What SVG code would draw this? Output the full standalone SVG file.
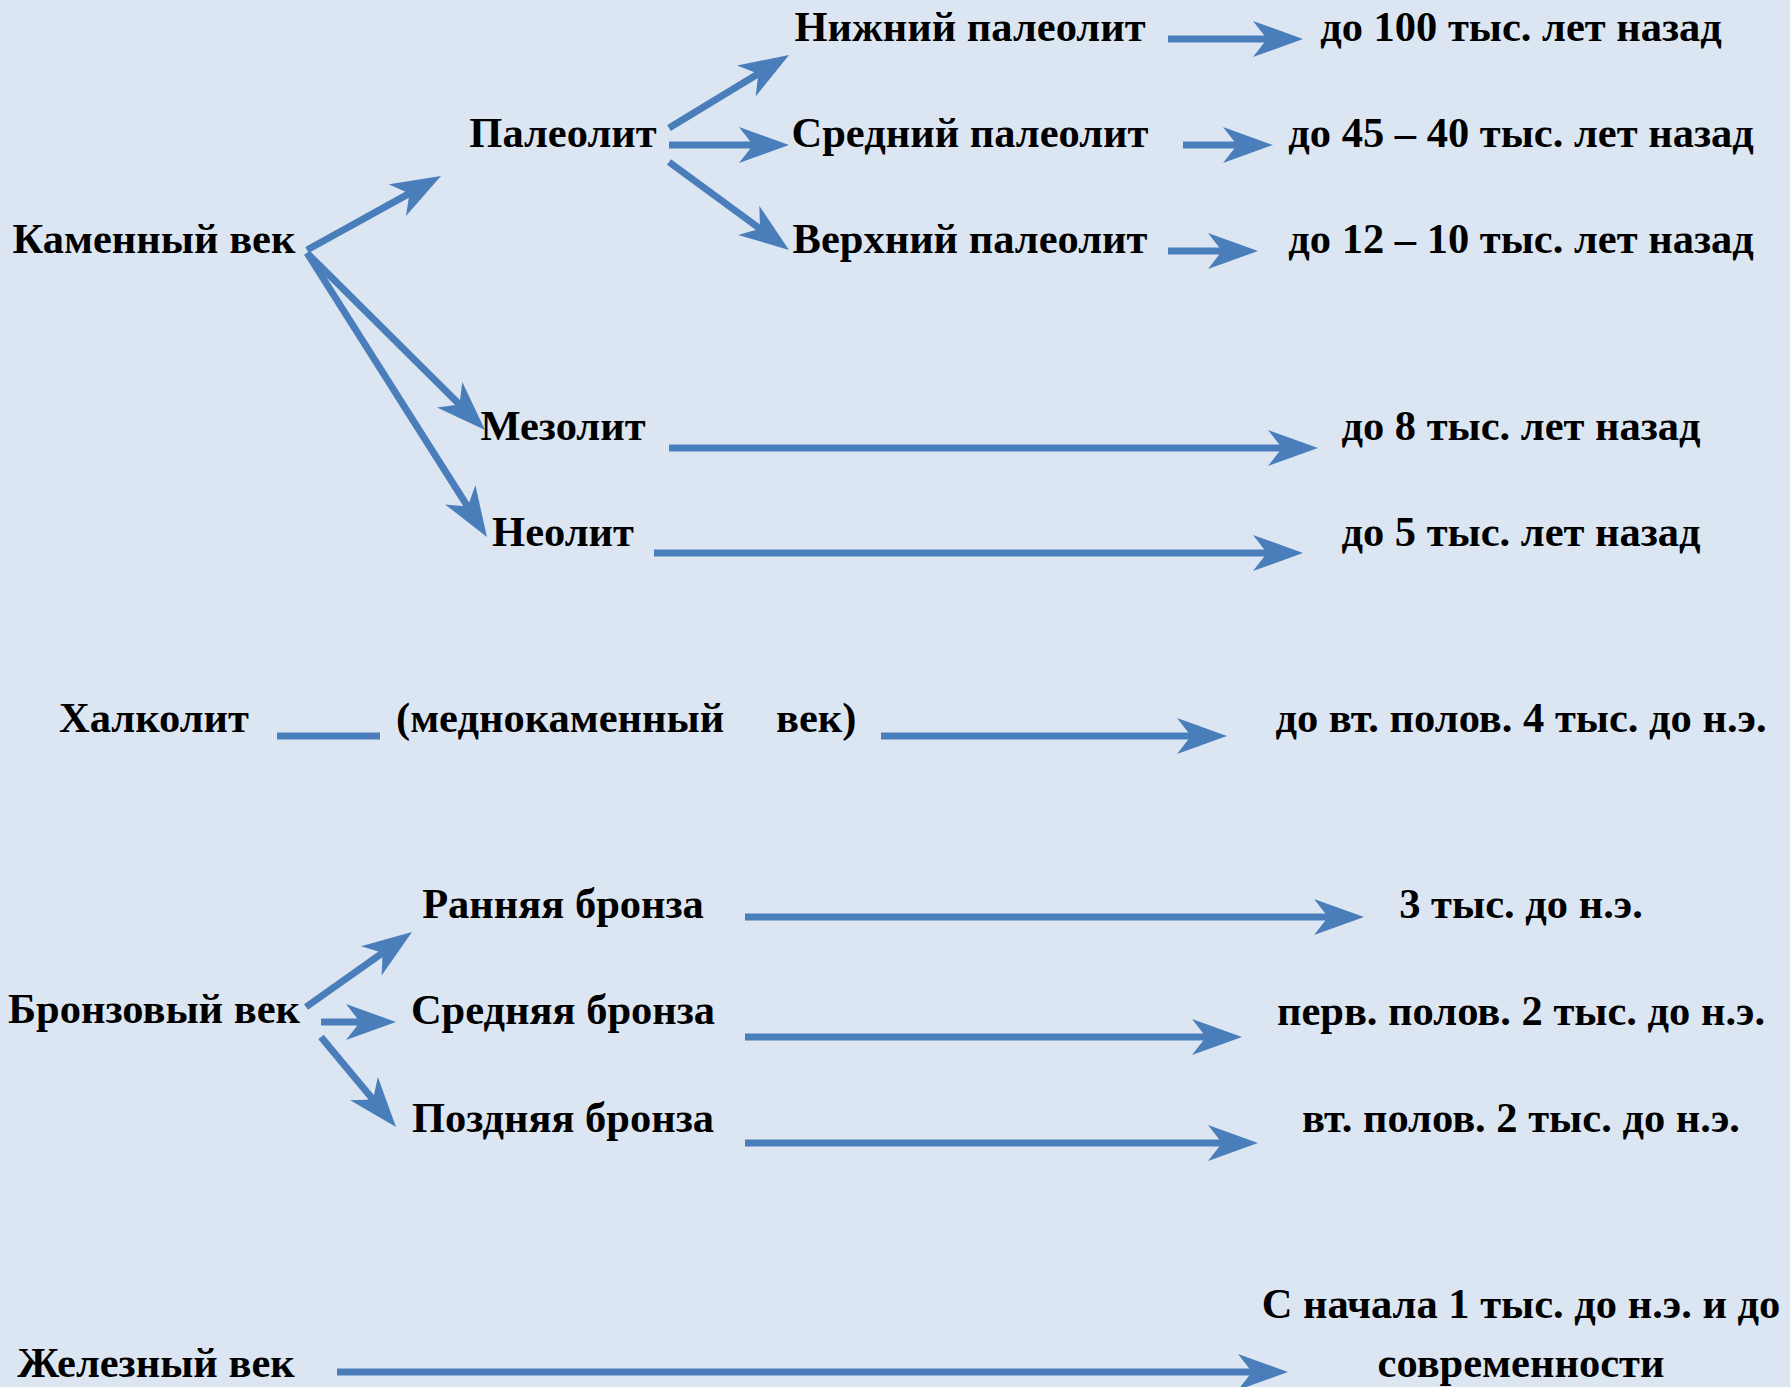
<svg xmlns="http://www.w3.org/2000/svg" width="1790" height="1387" viewBox="0 0 1790 1387">
<style>
.t{font-family:"Liberation Serif","Times New Roman",serif;font-weight:bold;font-size:42.5px;fill:#000}
.c{text-anchor:middle}
.s{text-anchor:start}
.ln{stroke:#4a7ebb;stroke-width:7;fill:none}
.ar{marker-end:url(#ah)}
</style>
<defs>
<marker id="ah" markerUnits="userSpaceOnUse" markerWidth="50" markerHeight="36" viewBox="0 0 50 36" refX="14" refY="18" orient="auto">
<path d="M0,0 L50,18 L0,36 L14,18 Z" fill="#4a7ebb"/>
</marker>
</defs>
<rect width="1790" height="1387" fill="#dce6f2"/>
<g id="connectors">
<line class="ln ar" x1="307" y1="250" x2="409.5" y2="193.4"/>
<line class="ln ar" x1="307" y1="253" x2="459.5" y2="404.6"/>
<line class="ln ar" x1="307" y1="253" x2="467.7" y2="506.6"/>
<line class="ln ar" x1="669" y1="128" x2="758.3" y2="73.7"/>
<line class="ln ar" x1="669" y1="145" x2="753" y2="145"/>
<line class="ln ar" x1="669" y1="162" x2="760" y2="228.7"/>
<line class="ln ar" x1="1168" y1="39" x2="1267" y2="39"/>
<line class="ln ar" x1="1183" y1="145" x2="1237" y2="145"/>
<line class="ln ar" x1="1168" y1="251" x2="1222" y2="251"/>
<line class="ln ar" x1="669" y1="448" x2="1282" y2="448"/>
<line class="ln ar" x1="654" y1="553" x2="1267" y2="553"/>
<line class="ln" x1="277" y1="736" x2="380" y2="736"/>
<line class="ln ar" x1="881" y1="736" x2="1191" y2="736"/>
<line class="ln ar" x1="306" y1="1007" x2="382.6" y2="952.8"/>
<line class="ln ar" x1="321" y1="1022" x2="360" y2="1022"/>
<line class="ln ar" x1="321" y1="1037" x2="373" y2="1099.4"/>
<line class="ln ar" x1="745" y1="917" x2="1328" y2="917"/>
<line class="ln ar" x1="745" y1="1037" x2="1206" y2="1037"/>
<line class="ln ar" x1="745" y1="1143" x2="1222" y2="1143"/>
<line class="ln ar" x1="337" y1="1372" x2="1252" y2="1372"/>
</g>
<g id="n-kamenny"><text class="t c" x="154" y="253">Каменный век</text></g>
<g id="n-paleolit"><text class="t c" x="563" y="147">Палеолит</text></g>
<g id="n-nizhny"><text class="t c" x="970" y="41">Нижний палеолит</text></g>
<g id="n-sredny"><text class="t c" x="970" y="147">Средний палеолит</text></g>
<g id="n-verkhny"><text class="t c" x="970" y="253">Верхний палеолит</text></g>
<g id="n-d100"><text class="t c" x="1521" y="41">до 100 тыс. лет назад</text></g>
<g id="n-d45"><text class="t c" x="1521" y="147">до 45 – 40 тыс. лет назад</text></g>
<g id="n-d12"><text class="t c" x="1521" y="253">до 12 – 10 тыс. лет назад</text></g>
<g id="n-mezolit"><text class="t c" x="563" y="440">Мезолит</text></g>
<g id="n-neolit"><text class="t c" x="563" y="546">Неолит</text></g>
<g id="n-d8"><text class="t c" x="1521" y="440">до 8 тыс. лет назад</text></g>
<g id="n-d5"><text class="t c" x="1521" y="546">до 5 тыс. лет назад</text></g>
<g id="n-khalkolit"><text class="t c" x="154" y="732">Халколит</text></g>
<g id="n-mednokam"><text class="t s" y="732"><tspan x="396">(меднокаменный</tspan> <tspan x="776">век)</tspan></text></g>
<g id="n-d4"><text class="t c" x="1521" y="732">до вт. полов. 4 тыс. до н.э.</text></g>
<g id="n-bronz"><text class="t c" x="154" y="1023">Бронзовый век</text></g>
<g id="n-rannyaya"><text class="t c" x="563" y="918">Ранняя бронза</text></g>
<g id="n-srednyaya"><text class="t c" x="563" y="1024">Средняя бронза</text></g>
<g id="n-pozdnyaya"><text class="t c" x="563" y="1132">Поздняя бронза</text></g>
<g id="n-3tys"><text class="t c" x="1521" y="918">3 тыс. до н.э.</text></g>
<g id="n-perv"><text class="t c" x="1521" y="1025">перв. полов. 2 тыс. до н.э.</text></g>
<g id="n-vt"><text class="t c" x="1521" y="1132">вт. полов. 2 тыс. до н.э.</text></g>
<g id="n-zhelez"><text class="t c" x="156" y="1377">Железный век</text></g>
<g id="n-snachala"><text class="t c" x="1521" y="1318">С начала 1 тыс. до н.э. и до</text><text class="t c" x="1521" y="1377">современности</text></g>
</svg>
